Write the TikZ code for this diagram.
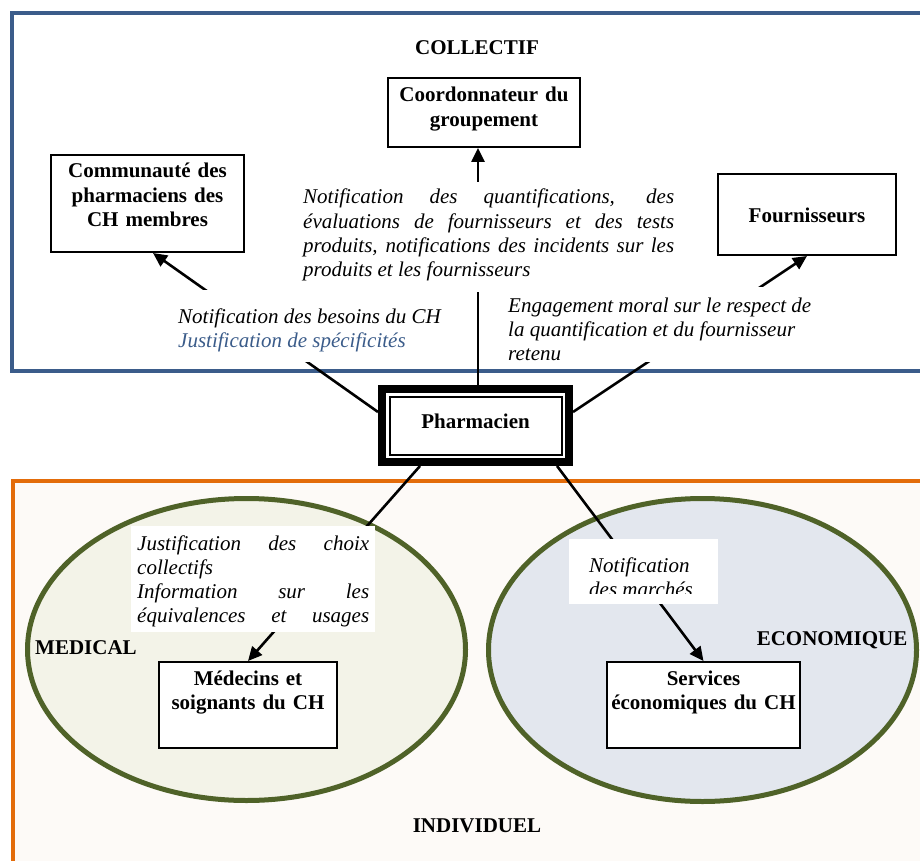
\documentclass[tikz,border=0pt]{standalone}
\usepackage{fontspec}
\setmainfont{Liberation Serif}
\usetikzlibrary{arrows.meta,shapes.geometric,calc}
\definecolor{collblue}{RGB}{59,92,138}
\definecolor{indivorange}{RGB}{227,108,10}
\definecolor{indivfill}{RGB}{253,250,247}
\definecolor{olivedark}{RGB}{79,98,40}
\definecolor{medfill}{RGB}{243,243,232}
\definecolor{ecofill}{RGB}{227,231,238}
\newcommand{\figfont}{\fontsize{21}{24.3}\selectfont}
\newcommand{\spreadline}[2]{\makebox[#1][s]{\spaceskip=0.25em plus 1fil\relax #2}}
\tikzset{
    block/.style = {draw, line width=2pt, fill=white, align=center,
        inner sep=0pt, anchor=base, font=\figfont\bfseries},
    note/.style = {fill=white, align=left, inner sep=0pt,
        anchor=base west, font=\figfont\itshape,
        execute at begin node={\spaceskip=0.25em\relax}},
    zonetitle/.style = {anchor=base, inner sep=0pt, font=\figfont\bfseries},
    arrow/.style = {draw, line width=2.6pt, -{Triangle[length=14pt,width=13pt]}},
    zoneellipse/.style = {draw=olivedark, ellipse, line width=5pt, inner sep=0pt}
}

\begin{document}
\begin{tikzpicture}[x=1pt,y=-1pt]
    \useasboundingbox (0,0) rectangle (920,861);
    \clip (0,0) rectangle (920,861);
    \draw[collblue, line width=4pt] (11.5,13) rectangle (940,371);
    \draw[indivorange, fill=indivfill, line width=4pt] (13,481) rectangle (940,880);

    \node[zoneellipse, fill=medfill, minimum width=438pt, minimum height=302pt] (medical) at (246.5,649.5) {};
    \node[zoneellipse, fill=ecofill, minimum width=428pt, minimum height=303pt] (eco) at (702.5,650) {};

    \node[zonetitle] (collectif) at (477,55) {COLLECTIF};
    \node[zonetitle, anchor=base west] (medtitle) at (35,654) {MEDICAL};
    \node[zonetitle] (ecotitle) at (832,645) {ECONOMIQUE};
    \node[zonetitle] (individuel) at (477,832) {INDIVIDUEL};

    \node[block, text width=192pt, text height=24pt, text depth=45pt] (coord) at (484,102) {Coordonnateur du\\groupement};
    \node[block, text width=193pt, text height=23pt, text depth=74pt] (comm) at (147.5,178) {Communauté des\\pharmaciens des\\CH membres};
    \node[block, text width=178pt, text height=48pt, text depth=33pt] (fourn) at (807,222) {Fournisseurs};
    \node[block, text width=178pt, text height=23pt, text depth=63pt] (med) at (248,685) {Médecins et\\soignants du CH};
    \node[block, text width=193pt, text height=23pt, text depth=63pt] (serv) at (703.5,685) {Services\\économiques du CH};
    \node[block, line width=8pt, text width=187pt, text height=39pt, text depth=34pt] (pharm) at (475.5,428) {Pharmacien};
    \draw[line width=2pt] ([shift={(11.5pt,-11.5pt)}]pharm.north west) rectangle ([shift={(-11.5pt,11.5pt)}]pharm.south east);

    \draw[arrow] ([yshift=13.5pt]pharm.west) -- ([xshift=5.5pt]comm.south);
    \draw[arrow] ([xshift=2.5pt]pharm.north) -- ([xshift=2.5pt]pharm.north |- coord.south);
    \draw[arrow] ([yshift=13.5pt]pharm.east) -- (fourn.south);
    \draw[arrow] ([xshift=-55.5pt]pharm.south) -- (med.north);
    \draw[arrow] ([xshift=81.5pt]pharm.south) -- (serv.north);

    \node[note, text width=371pt, text height=22pt, text depth=88pt] (quantif) at (303,204) {\spreadline{371pt}{Notification des quantifications, des}\\
        \spreadline{371pt}{évaluations de fournisseurs et des tests}\\
        \spreadline{371pt}{produits, notifications des incidents sur les}\\
        produits et les fournisseurs};
    \node[note, text width=270pt, text height=33pt, text depth=39pt] (besoins) at (178,323) {Notification des besoins du CH\\
        \textcolor{collblue}{Justification de spécificités}};
    \node[note, text width=330pt, text height=25pt, text depth=50pt] (engagement) at (508,312) {Engagement moral sur le respect de\\
        la quantification et du fournisseur\\
        retenu};
    \node[note, inner xsep=6pt, text width=232pt, text height=24pt, text depth=82pt] (justif) at (131,550) {\spreadline{232pt}{Justification des choix}\\
        collectifs\\
        \spreadline{232pt}{Information sur les}\\
        \spreadline{232pt}{équivalences et usages}};
    \node[note, inner xsep=20pt, text width=109pt, text height=33pt, text depth=32pt] (marches) at (569,572) {Notification\\
        des marchés};
    \fill[white] (marches.south west) rectangle ([yshift=10pt]marches.south east);
\end{tikzpicture}
\end{document}
